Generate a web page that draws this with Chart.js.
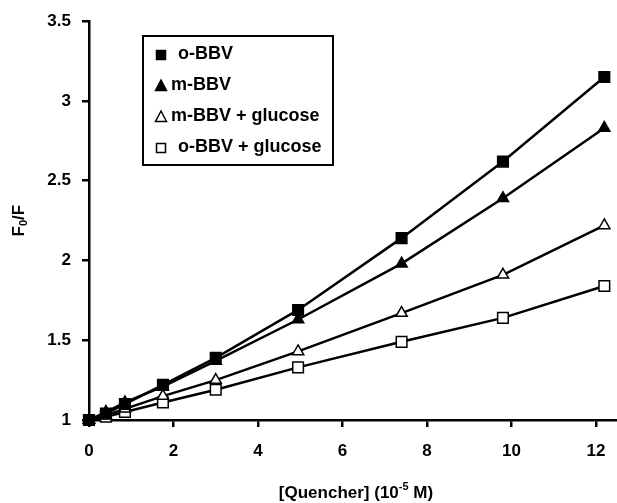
<!DOCTYPE html>
<html>
<head>
<meta charset="utf-8">
<script src="https://cdn.jsdelivr.net/npm/chart.js@4.4.0/dist/chart.umd.min.js"></script>
<style>
  html, body { margin: 0; padding: 0; background: #fff; }
  #wrap { width: 617px; height: 503px; }
</style>
</head>
<body>
<div id="wrap"><canvas id="grafico"></canvas></div>
<script>
// concentracao do quencher (10^-5 M)
const quencher = [0, 0.4, 0.85, 1.75, 3, 4.95, 7.4, 9.8, 12.2]

// F0/F de cada serie
const oBBV = [1.0, 1.04, 1.10, 1.22, 1.39, 1.69, 2.14, 2.62, 3.15]
const mBBV = [1.0, 1.05, 1.11, 1.21, 1.37, 1.63, 1.98, 2.39, 2.83]
const mBBVGlucose = [1.0, 1.03, 1.07, 1.15, 1.25, 1.43, 1.67, 1.91, 2.22]
const oBBVGlucose = [1.0, 1.02, 1.05, 1.11, 1.19, 1.33, 1.49, 1.64, 1.84]

const nomesSeries = ['o-BBV', 'm-BBV', 'm-BBV + glucose', 'o-BBV + glucose']

const fonteBold = 'bold 17px "Liberation Sans", Arial, sans-serif'
const fontePequena = 'bold 11px "Liberation Sans", Arial, sans-serif'

function pontos(valores) {
	return valores.map((v, i) => ({ x: quencher[i], y: v }))
}

function montaSerie(label, valores, estilo, preenchido, raio) {
	return {
		label: label,
		data: pontos(valores),
		borderColor: '#000',
		borderWidth: 2.5,
		pointStyle: estilo,
		pointRadius: raio,
		pointHoverRadius: raio,
		pointBackgroundColor: preenchido ? '#000' : '#fff',
		pointBorderColor: '#000',
		pointBorderWidth: 1.5,
		tension: 0,
		fill: false,
		clip: false
	}
}

function desenhaMarcador(ctx, estilo, x, y) {
	if (estilo == 'triangle') {
		ctx.moveTo(x, y - 6)
		ctx.lineTo(x + 5.5, y + 4.5)
		ctx.lineTo(x - 5.5, y + 4.5)
		ctx.closePath()
	} else {
		ctx.rect(x - 4.5, y - 4.5, 9, 9)
	}
}

// legenda dentro da area do grafico, com moldura
const legendaCaixa = {
	id: 'legendaCaixa',
	afterDraw(chart) {
		const ctx = chart.ctx
		ctx.save()
		ctx.strokeStyle = '#000'
		ctx.lineWidth = 2
		ctx.strokeRect(143, 36, 190, 129)
		ctx.font = 'bold 18px "Liberation Sans", Arial, sans-serif'
		ctx.textBaseline = 'middle'
		chart.data.datasets.forEach((ds, i) => {
			let y = 54 + i * 31
			ctx.fillStyle = ds.pointBackgroundColor
			ctx.strokeStyle = '#000'
			ctx.lineWidth = 1.5
			ctx.beginPath()
			desenhaMarcador(ctx, ds.pointStyle, 161, y + 1)
			ctx.fill()
			ctx.stroke()
			ctx.fillStyle = '#000'
			let dx = ds.label.startsWith('o') ? 178 : 171
			ctx.fillText(ds.label, dx, y)
		})
		ctx.restore()
	}
}

// titulos dos eixos com sub/sobrescrito
const titulosEixos = {
	id: 'titulosEixos',
	afterDraw(chart) {
		const ctx = chart.ctx
		const area = chart.chartArea
		ctx.save()
		ctx.fillStyle = '#000'
		ctx.textBaseline = 'middle'

		// eixo x: [Quencher] (10^-5 M)
		let p1 = '[Quencher] (10', p2 = '-5', p3 = ' M)'
		ctx.font = fonteBold
		let w1 = ctx.measureText(p1).width, w3 = ctx.measureText(p3).width
		ctx.font = fontePequena
		let w2 = ctx.measureText(p2).width
		let x0 = 356 - (w1 + w2 + w3) / 2
		let yx = 493
		ctx.font = fonteBold
		ctx.fillText(p1, x0, yx)
		ctx.font = fontePequena
		ctx.fillText(p2, x0 + w1, yx - 6)
		ctx.font = fonteBold
		ctx.fillText(p3, x0 + w1 + w2, yx)

		// eixo y: F0/F
		ctx.translate(19, (area.top + area.bottom) / 2)
		ctx.rotate(-Math.PI / 2)
		let q1 = 'F', q2 = '0', q3 = '/F'
		ctx.font = fonteBold
		let v1 = ctx.measureText(q1).width, v3 = ctx.measureText(q3).width
		ctx.font = fontePequena
		let v2 = ctx.measureText(q2).width
		let s0 = -(v1 + v2 + v3) / 2
		ctx.font = fonteBold
		ctx.fillText(q1, s0, 0)
		ctx.font = fontePequena
		ctx.fillText(q2, s0 + v1, 5)
		ctx.font = fonteBold
		ctx.fillText(q3, s0 + v1 + v2, 0)
		ctx.restore()
	}
}

const fonteTicks = { family: '"Liberation Sans", Arial, sans-serif', size: 17, weight: 'bold' }

new Chart(document.getElementById('grafico').getContext('2d'), {
	type: 'line',
	data: {
		datasets: [
			montaSerie(nomesSeries[0], oBBV, 'rect', true, 7.5),
			montaSerie(nomesSeries[1], mBBV, 'triangle', true, 6.5),
			montaSerie(nomesSeries[2], mBBVGlucose, 'triangle', false, 6.5),
			montaSerie(nomesSeries[3], oBBVGlucose, 'rect', false, 7.5)
		]
	},
	options: {
		responsive: true,
		maintainAspectRatio: false,
		animation: false,
		layout: { autoPadding: false, padding: { top: 20, right: 0, left: 0, bottom: 0 } },
		plugins: {
			legend: { display: false },
			tooltip: { enabled: false }
		},
		scales: {
			x: {
				type: 'linear',
				min: 0,
				max: 12.5,
				afterFit: (scale) => {
					scale.height = 83
					scale.paddingLeft = 0
					scale.paddingRight = 0
				},
				border: { display: true, color: '#000', width: 2.5 },
				grid: { display: true, drawOnChartArea: false, drawTicks: true, tickLength: 7, color: '#000', lineWidth: 2.5 },
				ticks: { stepSize: 2, includeBounds: false, color: '#000', font: fonteTicks, padding: 14, maxRotation: 0 }
			},
			y: {
				min: 1,
				max: 3.5,
				afterFit: (scale) => { scale.width = 89 },
				border: { display: true, color: '#000', width: 2.5 },
				grid: { display: true, drawOnChartArea: false, drawTicks: true, tickLength: 7, color: '#000', lineWidth: 2.5 },
				ticks: {
					stepSize: 0.5,
					color: '#000',
					font: fonteTicks,
					padding: 11,
					callback: (valor) => String(Number(valor.toFixed(1)))
				}
			}
		}
	},
	plugins: [legendaCaixa, titulosEixos]
})
</script>
</body>
</html>
